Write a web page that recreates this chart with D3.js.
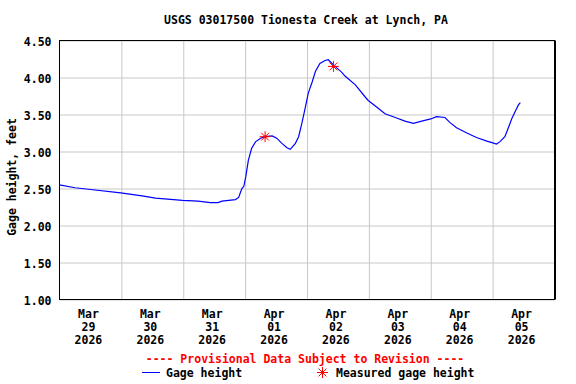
<!DOCTYPE html>
<html>
<head>
<meta charset="utf-8">
<script src="https://cdn.jsdelivr.net/npm/d3@7"></script>
<style>
  body { margin: 0; background: #fff; }
  text { font-family: "DejaVu Sans Mono", monospace; font-weight: bold; font-size: 11.5px; }
</style>
</head>
<body>
<svg width="576" height="384"></svg>
<script>
// gage height readings (feet)
const gageTimes = [
  "2026-03-29 00:00", "2026-03-29 06:00", "2026-03-29 11:15", "2026-03-29 23:45",
  "2026-03-30 08:00", "2026-03-30 13:15", "2026-03-30 23:45", "2026-03-31 05:45",
  "2026-03-31 10:30", "2026-03-31 13:30", "2026-03-31 15:00", "2026-03-31 20:15",
  "2026-03-31 21:30", "2026-03-31 22:00", "2026-03-31 22:45", "2026-03-31 23:30",
  "2026-04-01 00:15", "2026-04-01 01:15", "2026-04-01 02:30", "2026-04-01 04:00",
  "2026-04-01 06:00", "2026-04-01 07:45", "2026-04-01 10:30", "2026-04-01 12:15",
  "2026-04-01 14:15", "2026-04-01 16:15", "2026-04-01 17:30", "2026-04-01 19:30",
  "2026-04-01 20:45", "2026-04-01 22:00", "2026-04-01 23:15", "2026-04-02 00:30",
  "2026-04-02 02:00", "2026-04-02 03:15", "2026-04-02 05:00", "2026-04-02 07:00",
  "2026-04-02 08:15", "2026-04-02 10:15", "2026-04-02 13:30", "2026-04-02 14:45",
  "2026-04-02 18:45", "2026-04-02 22:30", "2026-04-02 23:45", "2026-04-03 03:45",
  "2026-04-03 06:15", "2026-04-03 10:15", "2026-04-03 14:00", "2026-04-03 17:15",
  "2026-04-03 20:30", "2026-04-04 00:00", "2026-04-04 02:15", "2026-04-04 05:30",
  "2026-04-04 07:30", "2026-04-04 10:00", "2026-04-04 14:00", "2026-04-04 17:45",
  "2026-04-04 21:45", "2026-04-04 23:45", "2026-04-05 01:30", "2026-04-05 02:45",
  "2026-04-05 04:45", "2026-04-05 06:00", "2026-04-05 07:30", "2026-04-05 08:45",
  "2026-04-05 10:00", "2026-04-05 10:45"
];
const gageValues = [
  2.55, 2.51, 2.49, 2.44,
  2.40, 2.37, 2.34, 2.33,
  2.31, 2.31, 2.33, 2.35,
  2.38, 2.43, 2.50, 2.53,
  2.66, 2.88, 3.04, 3.13,
  3.18, 3.20, 3.21, 3.18,
  3.11, 3.05, 3.03, 3.11,
  3.20, 3.38, 3.58, 3.79,
  3.94, 4.08, 4.19, 4.23,
  4.24, 4.17, 4.07, 4.02,
  3.90, 3.74, 3.69, 3.58,
  3.51, 3.46, 3.41, 3.38,
  3.41, 3.44, 3.47, 3.46,
  3.39, 3.32, 3.25, 3.19,
  3.14, 3.12, 3.10, 3.13,
  3.20, 3.31, 3.45, 3.54,
  3.63, 3.66
];

// field measurements
const measTimes = ["2026-04-01 07:45", "2026-04-02 10:15"];
const measValues = [3.20, 4.15];

const yTicks = [1.0, 1.5, 2.0, 2.5, 3.0, 3.5, 4.0, 4.5];
const days = ["2026-03-29", "2026-03-30", "2026-03-31", "2026-04-01",
              "2026-04-02", "2026-04-03", "2026-04-04", "2026-04-05"];

const parseTime = d3.utcParse("%Y-%m-%d %H:%M");
const parseDay = d3.utcParse("%Y-%m-%d");

const svg = d3.select("svg");
const plotLeft = 59.5, plotRight = 554.5, plotTop = 40.5, plotBottom = 299.5;

const x = d3.scaleUtc()
  .domain([parseDay("2026-03-29"), parseDay("2026-04-06")])
  .range([plotLeft, plotRight]);
const y = d3.scaleLinear().domain([1, 4.5]).range([plotBottom, plotTop]);

// horizontal grid + labels
svg.append("g")
  .attr("transform", `translate(${plotLeft},0)`)
  .call(d3.axisLeft(y).tickValues(yTicks).tickSize(-(plotRight - plotLeft)).tickFormat(d3.format(".2f")).tickPadding(8))
  .call(g => g.select(".domain").remove())
  .call(g => g.selectAll("line").attr("stroke", "#c8c8c8"))
  .call(g => g.selectAll("text").attr("fill", "#000").attr("dy", "0.45em").style("font-size", null));

// vertical grid at midnight
svg.append("g")
  .attr("transform", `translate(0,${plotBottom})`)
  .call(d3.axisBottom(x).tickValues(days.slice(1).map(parseDay)).tickSize(-(plotBottom - plotTop)).tickFormat(""))
  .call(g => g.select(".domain").remove())
  .call(g => g.selectAll("line").attr("stroke", "#c8c8c8"));

// plot border
svg.append("rect")
  .attr("x", plotLeft).attr("y", plotTop)
  .attr("width", plotRight - plotLeft).attr("height", plotBottom - plotTop)
  .attr("fill", "none").attr("stroke", "#000");
svg.append("line")
  .attr("x1", plotRight + 1).attr("x2", plotRight + 1).attr("y1", plotTop).attr("y2", plotBottom)
  .attr("stroke", "#000");

// day labels at noon
const fmtMon = d3.utcFormat("%b"), fmtDay = d3.utcFormat("%d"), fmtYear = d3.utcFormat("%Y");
const dayLabel = svg.append("g").selectAll("text")
  .data(days.map(parseDay))
  .join("text")
  .attr("text-anchor", "middle")
  .attr("y", 318);
dayLabel.each(function(d) {
  const cx = x(d3.utcHour.offset(d, 12)) - 2;
  const t = d3.select(this);
  [fmtMon(d), fmtDay(d), fmtYear(d)].forEach((s, i) => {
    t.append("tspan").attr("x", cx).attr("dy", i === 0 ? 0 : 13.2).text(s);
  });
});

// gage height line
const gage = gageTimes.map((t, i) => ({ t: parseTime(t), v: gageValues[i] }));
svg.append("path")
  .datum(gage)
  .attr("fill", "none")
  .attr("stroke", "#0000ff")
  .attr("stroke-width", 1.2)
  .attr("d", d3.line().x(d => x(d.t)).y(d => y(d.v)));

// asterisk marker
function star(g, r) {
  for (let k = 0; k < 4; k++) {
    const a = k * Math.PI / 4;
    g.append("line")
      .attr("x1", -r * Math.cos(a)).attr("y1", -r * Math.sin(a))
      .attr("x2", r * Math.cos(a)).attr("y2", r * Math.sin(a))
      .attr("stroke", "#ff0000").attr("stroke-width", 1);
  }
  g.append("circle").attr("r", 1.5).attr("fill", "#ff0000");
}

const meas = measTimes.map((t, i) => ({ t: parseTime(t), v: measValues[i] }));
svg.append("g").selectAll("g")
  .data(meas)
  .join("g")
  .attr("transform", d => `translate(${x(d.t)},${y(d.v)})`)
  .each(function() { star(d3.select(this), 5.5); });

// title
svg.append("text")
  .attr("x", 306).attr("y", 24)
  .attr("text-anchor", "middle")
  .text("USGS 03017500 Tionesta Creek at Lynch, PA");

// y axis title
svg.append("text")
  .attr("transform", "translate(16,177) rotate(-90)")
  .attr("text-anchor", "middle")
  .text("Gage height, feet");

// provisional notice
svg.append("text")
  .attr("x", 305).attr("y", 363)
  .attr("text-anchor", "middle")
  .attr("fill", "#ff0000")
  .text("---- Provisional Data Subject to Revision ----");

// legend
svg.append("line")
  .attr("x1", 142).attr("x2", 160).attr("y1", 372.5).attr("y2", 372.5)
  .attr("stroke", "#0000ff");
svg.append("text").attr("x", 166).attr("y", 377).text("Gage height");
star(svg.append("g").attr("transform", "translate(322.5,372.5)"), 5.5);
svg.append("text").attr("x", 336).attr("y", 377).text("Measured gage height");
</script>
</body>
</html>
